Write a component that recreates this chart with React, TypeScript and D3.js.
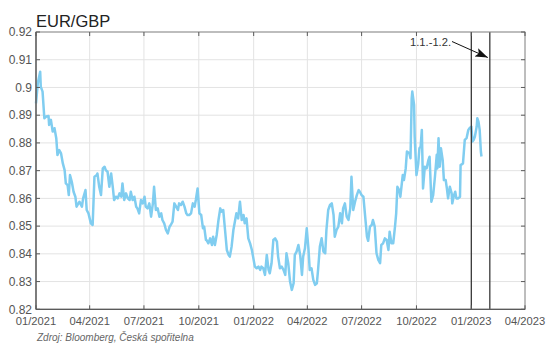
import React from "react";
import * as d3 from "d3";

// Days since 2021-01-01 and EUR/GBP values
const dayOffsets: number[] = [
  0, 3, 7, 8, 11, 14, 17, 21, 22, 25, 28, 31, 34, 36, 39, 42, 45, 48, 50, 53, 55, 57, 60, 63, 66, 68, 73, 77, 79, 83,
  85, 88, 92, 95, 98, 102, 103, 106, 109, 112, 115, 117, 120, 123, 126, 129, 131, 134, 137, 140, 143, 145, 148, 151,
  154, 157, 159, 162, 165, 168, 170, 173, 176, 179, 182, 184, 187, 190, 193, 196, 198, 201, 204, 207, 210, 212, 215,
  218, 221, 224, 226, 229, 232, 235, 238, 240, 243, 246, 249, 252, 254, 257, 260, 263, 266, 268, 271, 274, 277, 280,
  282, 285, 286, 289, 292, 295, 297, 300, 303, 306, 309, 311, 314, 317, 320, 323, 325, 328, 331, 334, 336, 339, 342,
  345, 348, 350, 353, 356, 359, 362, 364, 367, 370, 373, 376, 378, 381, 384, 387, 390, 392, 395, 398, 401, 404, 406,
  409, 412, 415, 418, 420, 423, 426, 429, 432, 434, 437, 440, 443, 446, 448, 451, 454, 457, 459, 462, 465, 468, 471,
  473, 476, 479, 482, 485, 487, 490, 493, 496, 499, 501, 504, 507, 510, 513, 515, 518, 521, 524, 527, 529, 532, 535,
  538, 541, 543, 546, 549, 552, 555, 557, 560, 563, 565, 568, 571, 574, 577, 579, 582, 585, 588, 591, 593, 596, 599,
  602, 604, 606, 609, 611, 615, 617, 620, 622, 626, 628, 630, 631, 634, 635, 638, 641, 643, 645, 647, 649, 652, 655,
  658, 660, 663, 666, 669, 672, 673, 675, 677, 679, 682, 684, 687, 689, 691, 694, 697, 698, 701, 703, 705, 708, 711,
  712, 716, 719, 722, 725, 727, 730, 732, 734, 736, 739, 740, 742, 744, 746, 747,
];

const rates: number[] = [
  0.8943, 0.9015, 0.9057, 0.9003, 0.8985, 0.8889, 0.8895, 0.8897, 0.8865, 0.8883, 0.8841, 0.8853, 0.8817, 0.8756,
  0.8774, 0.8762, 0.8726, 0.8702, 0.8654, 0.8648, 0.8612, 0.8684, 0.866, 0.8624, 0.8606, 0.857, 0.8588, 0.857, 0.86,
  0.863, 0.8558, 0.8546, 0.851, 0.8504, 0.8678, 0.8684, 0.869, 0.8642, 0.8612, 0.8708, 0.8714, 0.8702, 0.8696, 0.8642,
  0.869, 0.8636, 0.8594, 0.8606, 0.86, 0.8618, 0.8606, 0.8654, 0.8594, 0.8618, 0.86, 0.8594, 0.8624, 0.8594, 0.8606,
  0.857, 0.8564, 0.8546, 0.8594, 0.8582, 0.8606, 0.857, 0.8564, 0.8582, 0.8534, 0.8582, 0.8642, 0.8558, 0.8564, 0.8534,
  0.8546, 0.8522, 0.851, 0.8486, 0.8474, 0.8498, 0.8504, 0.8516, 0.8582, 0.857, 0.8558, 0.8582, 0.8576, 0.8588, 0.857,
  0.8546, 0.854, 0.854, 0.8546, 0.8582, 0.857, 0.8594, 0.8636, 0.8546, 0.854, 0.8492, 0.8498, 0.845, 0.845, 0.8438,
  0.8456, 0.8432, 0.8462, 0.8432, 0.8468, 0.8522, 0.8564, 0.8552, 0.8558, 0.8486, 0.8414, 0.8396, 0.839, 0.8426,
  0.8486, 0.8522, 0.8546, 0.8528, 0.8588, 0.8522, 0.854, 0.851, 0.8528, 0.8456, 0.8438, 0.8414, 0.839, 0.8354, 0.8348,
  0.8354, 0.8342, 0.8354, 0.8348, 0.8324, 0.8396, 0.8342, 0.833, 0.8366, 0.845, 0.8456, 0.8444, 0.839, 0.8348, 0.8354,
  0.8342, 0.8324, 0.8402, 0.8366, 0.83, 0.827, 0.8294, 0.8396, 0.8408, 0.8432, 0.8396, 0.8324, 0.839, 0.842, 0.8492,
  0.8414, 0.8342, 0.8348, 0.8306, 0.8288, 0.8294, 0.8342, 0.8426, 0.8456, 0.8408, 0.8402, 0.8486, 0.8558, 0.8576,
  0.8582, 0.854, 0.8462, 0.8486, 0.8498, 0.8546, 0.851, 0.8564, 0.8582, 0.8534, 0.8522, 0.8564, 0.8678, 0.8558, 0.8588,
  0.8612, 0.863, 0.8624, 0.8612, 0.8606, 0.8534, 0.8462, 0.8447, 0.8498, 0.8504, 0.8522, 0.8498, 0.8402, 0.8378,
  0.8366, 0.8432, 0.8438, 0.8456, 0.845, 0.8414, 0.848, 0.8438, 0.8438, 0.8498, 0.8546, 0.8642, 0.863, 0.8606, 0.8684,
  0.8666, 0.8708, 0.8769, 0.8763, 0.8745, 0.8961, 0.8985, 0.8937, 0.8823, 0.8684, 0.8726, 0.8781, 0.8787, 0.8847,
  0.8636, 0.8714, 0.8708, 0.8738, 0.875, 0.8588, 0.8612, 0.8678, 0.8757, 0.8708, 0.8817, 0.8714, 0.8781, 0.8738,
  0.8666, 0.8666, 0.8636, 0.86, 0.8642, 0.8618, 0.8582, 0.8612, 0.8624, 0.86, 0.86, 0.8606, 0.872, 0.8726, 0.8811,
  0.8817, 0.8847, 0.8853, 0.8859, 0.8805, 0.8811, 0.8823, 0.8859, 0.8889, 0.8877, 0.8847, 0.8769, 0.8751,
];

const yTicks: number[] = [0.82, 0.83, 0.84, 0.85, 0.86, 0.87, 0.88, 0.89, 0.9, 0.91, 0.92];
const xTickLabels: string[] = ["01/2021", "04/2021", "07/2021", "10/2021", "01/2022", "04/2022", "07/2022", "10/2022", "01/2023", "04/2023"];
const xTickDates: string[] = ["2021-01-01", "2021-04-01", "2021-07-01", "2021-10-01", "2022-01-01", "2022-04-01", "2022-07-01", "2022-10-01", "2023-01-01", "2023-04-01"];
const markerDates: string[] = ["2023-01-01", "2023-02-01"];
const annotationText = "1.1.-1.2.";
const titleText = "EUR/GBP";
const sourceText = "Zdroj: Bloomberg, Česká spořitelna";

const parse = d3.utcParse("%Y-%m-%d");
const startDate = parse("2021-01-01") as Date;

export default function App() {
  const W = 546, H = 345;
  const left = 36, right = 525, top = 32, bottom = 309.3;
  const x = d3.scaleUtc().domain([parse("2021-01-01") as Date, parse("2023-04-01") as Date]).range([left, right]);
  const y = d3.scaleLinear().domain([0.82, 0.92]).range([bottom, top]);

  const data = dayOffsets.map((d, i) => ({ date: d3.utcDay.offset(startDate, d), v: rates[i] }));
  const line = d3.line<{ date: Date; v: number }>().x((d) => x(d.date)).y((d) => y(d.v));

  const xt = xTickDates.map((s) => parse(s) as Date);
  const axisColor = "#5a5a5a";
  const gridColor = "#e3e3e3";
  const font = "'Liberation Sans', Arial, sans-serif";

  const ax0 = 452, ay0 = 41.5, ax1 = x(parse(markerDates[1]) as Date) - 2, ay1 = 57.5;

  return (
    <svg width={W} height={H} style={{ position: "absolute", left: 0, top: 0, background: "#fff" }} fontFamily={font}>
      <defs>
        <marker id="arrowHead" viewBox="0 0 14 10" refX="14" refY="5" markerWidth="14" markerHeight="9" markerUnits="userSpaceOnUse" orient="auto">
          <path d="M0,0 L14,5 L0,10 L3,5 Z" fill="#111" />
        </marker>
      </defs>
      {/* grid */}
      {yTicks.map((t) => (
        <line key={"gy" + t} x1={left} x2={right} y1={y(t)} y2={y(t)} stroke={gridColor} strokeWidth={1} />
      ))}
      {xt.map((d, i) => (
        <line key={"gx" + i} x1={x(d)} x2={x(d)} y1={top} y2={bottom} stroke={gridColor} strokeWidth={1} />
      ))}
      {/* data line */}
      <path d={line(data) || ""} fill="none" stroke="#80cdf0" strokeWidth={2.5} strokeLinejoin="round" />
      {/* marker lines */}
      {markerDates.map((s) => {
        const xx = x(parse(s) as Date);
        return <line key={s} x1={xx} x2={xx} y1={top} y2={bottom} stroke="#3a3a3a" strokeWidth={1.3} />;
      })}
      {/* frame */}
      <rect x={left} y={top} width={right - left} height={bottom - top} fill="none" stroke="#8a8a8a" strokeWidth={1} />
      <line x1={left} x2={left} y1={top} y2={bottom} stroke={axisColor} strokeWidth={1.3} />
      <line x1={left} x2={right} y1={bottom} y2={bottom} stroke={axisColor} strokeWidth={1.3} />
      {/* y ticks */}
      {yTicks.map((t) => (
        <g key={"yt" + t}>
          <line x1={left} x2={left + 4} y1={y(t)} y2={y(t)} stroke={axisColor} />
          <line x1={right - 4} x2={right} y1={y(t)} y2={y(t)} stroke={axisColor} />
          <text x={left - 4} y={y(t)} dy="0.35em" textAnchor="end" fontSize={12} fill="#555">
            {d3.format("")(+t.toFixed(2))}
          </text>
        </g>
      ))}
      {/* x ticks */}
      {xt.map((d, i) => (
        <g key={"xt" + i}>
          <line x1={x(d)} x2={x(d)} y1={bottom} y2={bottom - 4} stroke={axisColor} />
          <line x1={x(d)} x2={x(d)} y1={top} y2={top + 4} stroke={axisColor} />
          <text x={x(d)} y={bottom + 16} textAnchor="middle" fontSize={11.2} fill="#555">
            {xTickLabels[i]}
          </text>
        </g>
      ))}
      {/* title */}
      <text x={left} y={26.5} fontSize={16.5} fill="#222">{titleText}</text>
      {/* annotation */}
      <text x={410} y={46} fontSize={11.2} fill="#333">{annotationText}</text>
      <line x1={ax0} y1={ay0} x2={ax1} y2={ay1} stroke="#111" strokeWidth={1} markerEnd="url(#arrowHead)" />
      {/* source */}
      <text x={37} y={341} fontSize={10} fontStyle="italic" fill="#666">{sourceText}</text>
    </svg>
  );
}
